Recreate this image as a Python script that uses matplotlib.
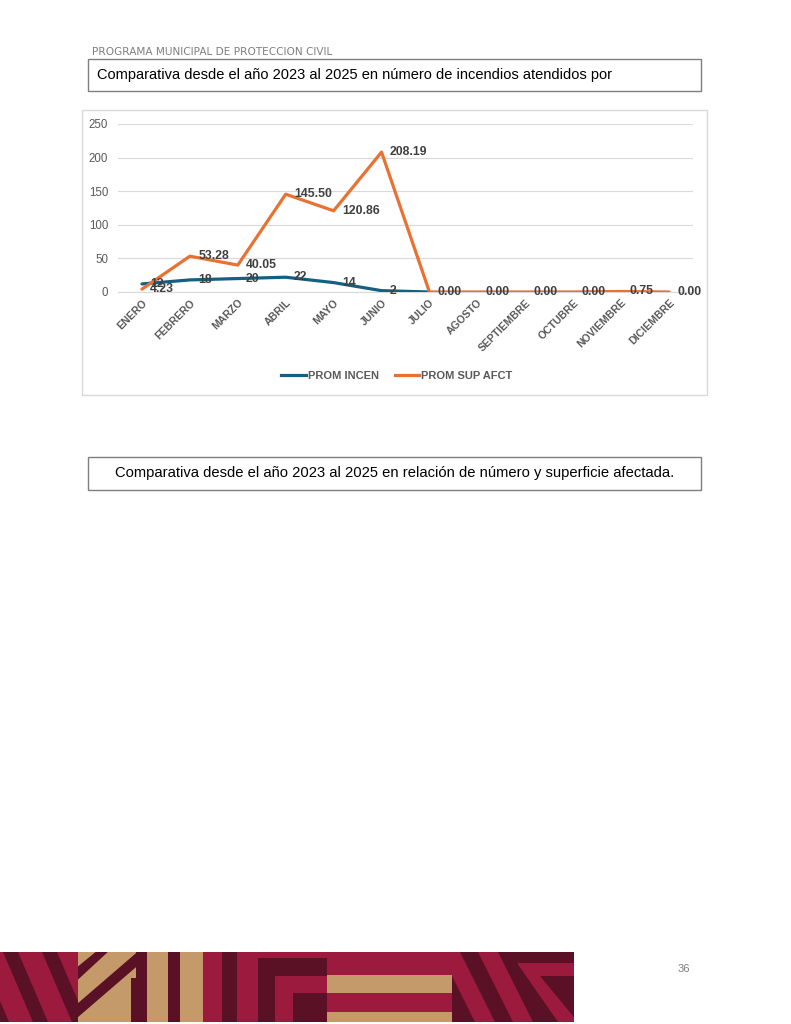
import numpy as np
import matplotlib.pyplot as plt
from matplotlib.patches import Rectangle, Polygon
from matplotlib.lines import Line2D

meses = ["ENERO", "FEBRERO", "MARZO", "ABRIL", "MAYO", "JUNIO", "JULIO",
         "AGOSTO", "SEPTIEMBRE", "OCTUBRE", "NOVIEMBRE", "DICIEMBRE"]
prom_incen = [12, 18, 20, 22, 14, 2, 0, np.nan, np.nan, np.nan, np.nan, np.nan]
etiq_incen = ["12", "18", "20", "22", "14", "2", "", "", "", "", "", ""]
prom_sup = [4.23, 53.28, 40.05, 145.50, 120.86, 208.19, 0.00, 0.00, 0.00, 0.00, 0.75, 0.00]

W, H = 791, 1024
AZUL = "#156082"
NARANJA = "#E97132"
GRIS = "#595959"

plt.rcParams['font.family'] = ['Liberation Sans', 'DejaVu Sans']

fig = plt.figure(figsize=(W / 100, H / 100), dpi=100)


def fx(px):
    return px / W


def fy(py):
    return 1 - py / H


def caja(x0, y0, x1, y1, color, lw=1.0):
    r = Rectangle((fx(x0), fy(y1)), fx(x1) - fx(x0), fy(y0) - fy(y1),
                  transform=fig.transFigure, fill=False, edgecolor=color, lw=lw)
    fig.patches.append(r)


# encabezado
fig.text(fx(92), fy(52), "PROGRAMA MUNICIPAL DE PROTECCION CIVIL", fontsize=7.6,
         family="DejaVu Sans", color="#7f7f7f", ha="left", va="center")

caja(88, 59, 701, 91, "#7f7f7f")
fig.text(fx(97), fy(75), "Comparativa desde el año 2023 al 2025 en número de incendios atendidos por",
         fontsize=10.5, color="black", ha="left", va="center")

# marco del grafico
caja(82, 110, 707, 395, "#d9d9d9")

ax = fig.add_axes([fx(118), fy(292), fx(693) - fx(118), fy(124) - fy(292)])
x = np.arange(len(meses))
ax.plot(x, prom_incen, color=AZUL, lw=2.3, solid_capstyle="round", zorder=3)
ax.plot(x, prom_sup, color=NARANJA, lw=2.3, solid_capstyle="round", zorder=4)

for i in range(len(meses)):
    if etiq_incen[i]:
        ax.annotate(etiq_incen[i], (x[i], prom_incen[i]), xytext=(6, 0), textcoords="offset points",
                    ha="left", va="center", fontsize=8.8, fontweight="bold", color="#404040", zorder=5)
    ax.annotate(f"{prom_sup[i]:.2f}", (x[i], prom_sup[i]), xytext=(6, 0), textcoords="offset points",
                ha="left", va="center", fontsize=8.8, fontweight="bold", color="#404040", zorder=5)

ax.set_xlim(-0.5, len(meses) - 0.5)
ax.set_ylim(0, 250)
ax.set_yticks([0, 50, 100, 150, 200, 250])
ax.yaxis.grid(True, color="#d9d9d9", lw=0.8)
ax.set_axisbelow(True)
for s in ["top", "right", "left"]:
    ax.spines[s].set_visible(False)
ax.spines["bottom"].set_color("#d9d9d9")
ax.tick_params(axis="both", length=0, colors=GRIS, labelsize=8.3)
ax.tick_params(axis="y", pad=7)
ax.tick_params(axis="x", pad=4)
ax.set_xticks(x)
ax.set_xticklabels(meses, rotation=45, ha="right", rotation_mode="anchor",
                   fontweight="bold", fontsize=7.6, color=GRIS)
ax.patch.set_alpha(0)

handles = [Line2D([], [], color=AZUL, lw=2.3), Line2D([], [], color=NARANJA, lw=2.3)]
fig.legend(handles, ["PROM INCEN", "PROM SUP AFCT"], loc="center", bbox_to_anchor=(fx(397), fy(376)),
           ncol=2, frameon=False, handlelength=2.2, handletextpad=0.2, columnspacing=1.4,
           prop={"size": 8, "weight": "bold"}, labelcolor=GRIS)

caja(88, 457, 701, 490, "#7f7f7f")
fig.text(fx(394.5), fy(473.5), "Comparativa desde el año 2023 al 2025 en relación de número y superficie afectada.",
         fontsize=10.6, color="black", ha="center", va="center")

# pie de pagina decorativo
ROJO = "#9B1A3E"
OSCURO = "#5A1025"
ARENA = "#C49A6A"
Y0, Y1 = 952, 1022


def rect(x0, y0, x1, y1, c):
    r = Rectangle((fx(x0), fy(y1)), fx(x1) - fx(x0), fy(y0) - fy(y1),
                  transform=fig.transFigure, facecolor=c, edgecolor="none")
    fig.patches.append(r)
    return r


def poli(pts, c, clip):
    p = Polygon([(fx(a), fy(b)) for a, b in pts], closed=True, transform=fig.transFigure,
                facecolor=c, edgecolor="none")
    p.set_clip_path(clip)
    fig.patches.append(p)


# panel 1
c1 = rect(0, Y0, 78, Y1, ROJO)
for t in [-36, 3, 42]:
    poli([(t, Y0), (t + 15, Y0), (t + 45, Y1), (t + 30, Y1)], OSCURO, c1)

# panel 2
c2 = rect(78, Y0, 203, Y1, ARENA)
poli([(70, 973), (70, 987), (110, Y0 - 2), (98, Y0 - 2)], OSCURO, c2)
poli([(70, 1010), (70, 1024), (142, 962), (142, 948)], OSCURO, c2)
rect(131, 978, 137, Y1, OSCURO)
rect(136, Y0, 147, Y1, OSCURO)
rect(168, Y0, 180, Y1, OSCURO)

# panel 3
rect(203, Y0, 327, Y1, ROJO)
rect(222, Y0, 237, Y1, OSCURO)
rect(258, 958, 327, 976, OSCURO)
rect(258, 958, 275, Y1, OSCURO)
rect(293, 993, 327, Y1, OSCURO)

# panel 4
rect(327, Y0, 452, Y1, ROJO)
rect(327, 975, 452, 993, ARENA)
rect(327, 1012, 452, Y1, ARENA)

# panel 5
c5 = rect(452, Y0, 574, Y1, OSCURO)
for t in [440, 478]:
    poli([(t, Y0), (t + 20, Y0), (t + 55, Y1), (t + 35, Y1)], ROJO, c5)
poli([(517, 963), (574, 963), (574, 976), (540, 976), (578, Y1), (558, Y1)], ROJO, c5)

fig.text(fx(684), fy(969), "36", fontsize=8, color="#7f7f7f", ha="center", va="center")

fig.savefig("out.png", dpi=100, facecolor="white")
